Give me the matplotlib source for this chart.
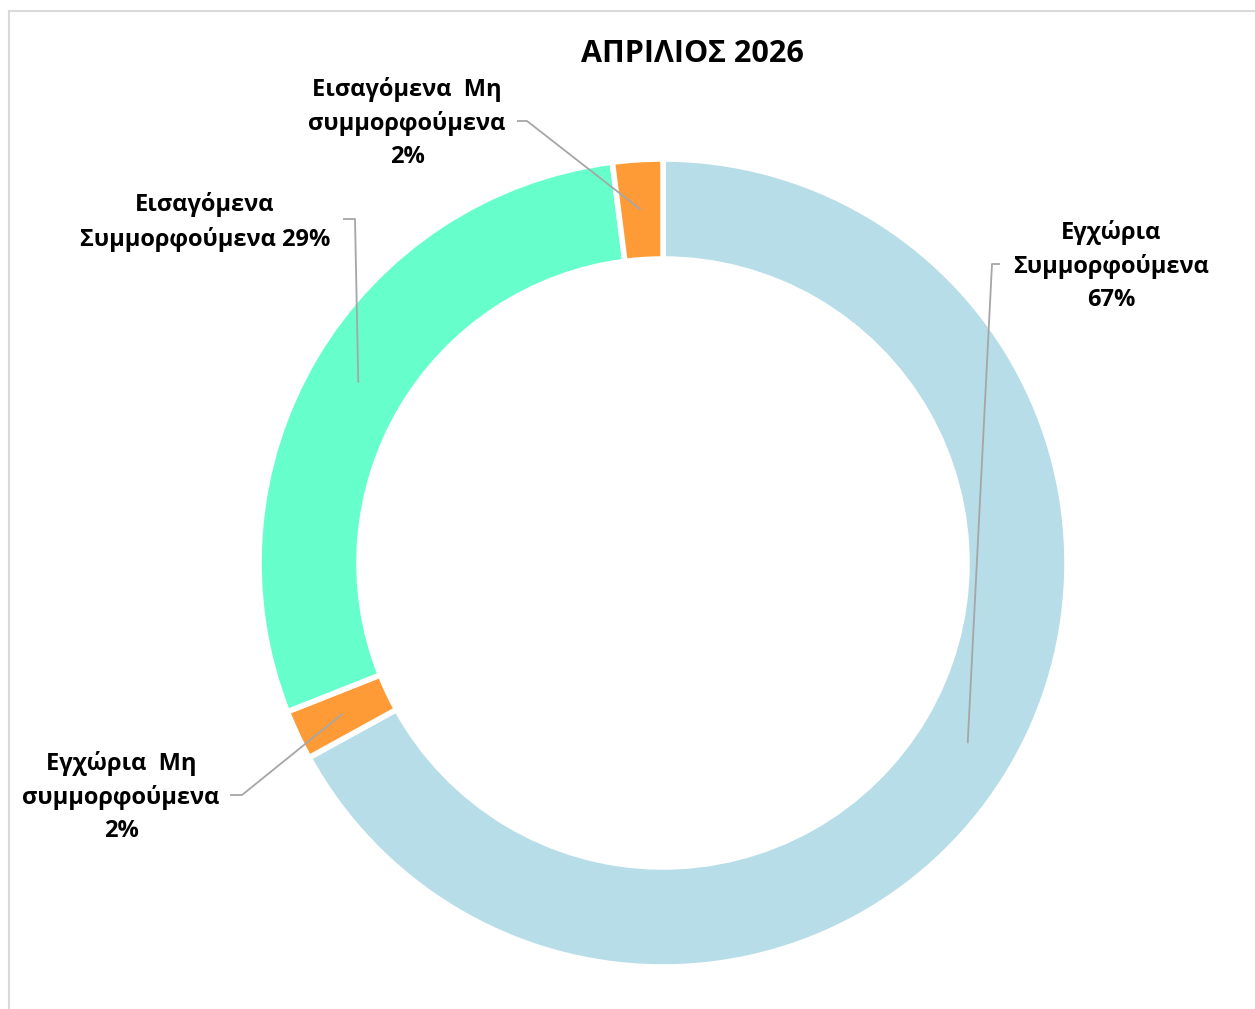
import numpy as np
import matplotlib.pyplot as plt

plt.rcParams['font.family'] = ['Open Sans', 'DejaVu Sans']

title = "ΑΠΡΙΛΙΟΣ 2026"
labels = ["Εγχώρια\nΣυμμορφούμενα\n67%",
          "Εγχώρια  Μη\nσυμμορφούμενα\n2%",
          "Εισαγόμενα\nΣυμμορφούμενα 29%",
          "Εισαγόμενα  Μη\nσυμμορφούμενα\n2%"]
values = [67, 2, 29, 2]
colors = ["#b7dde8", "#ff9b37", "#66ffcc", "#ff9b37"]

W, H = 1255, 1009
fig = plt.figure(figsize=(W / 100, H / 100), dpi=100)
ax = fig.add_axes([0, 0, 1, 1])

cx, cy = 663, H - 563
R, ring = 404, 100

wedges, _ = ax.pie(values, colors=colors, startangle=90, counterclock=False,
                   center=(cx, cy), radius=R, frame=True,
                   wedgeprops=dict(width=ring, edgecolor="white", linewidth=4))
ax.set_xlim(0, W)
ax.set_ylim(0, H)
ax.set_aspect("equal")
ax.axis("off")

# frame of the chart area
ax.plot([9, 9], [0, H - 11], color="#d9d9d9", lw=1.5)
ax.plot([9, W], [H - 11, H - 11], color="#d9d9d9", lw=1.5)

ax.text(692, H - 54, title, ha="center", va="center", fontsize=22, fontweight="bold")

# label text position, elbow start/end (pixel coords from top)
lab_pos = [(1111, 266), (121, 797), (205, 222), (407, 123)]
elbow = [((1000, 264), (992, 264)), ((230, 795), (242, 795)),
         ((343, 219), (355, 219)), ((517, 121), (527, 121))]

rmid = R - ring / 2
for w, lab, (lx, ly), (p0, p1) in zip(wedges, labels, lab_pos, elbow):
    ang = np.deg2rad((w.theta1 + w.theta2) / 2)
    axx = cx + rmid * np.cos(ang)
    ayy = cy + rmid * np.sin(ang)
    ax.plot([p0[0], p1[0], axx], [H - p0[1], H - p1[1], ayy],
            color="#a6a6a6", lw=1.3, solid_capstyle="butt")
    ax.text(lx, H - ly, lab, ha="center", va="center", fontsize=17,
            fontweight="bold", linespacing=1.5)

fig.savefig("out.png", dpi=100)
